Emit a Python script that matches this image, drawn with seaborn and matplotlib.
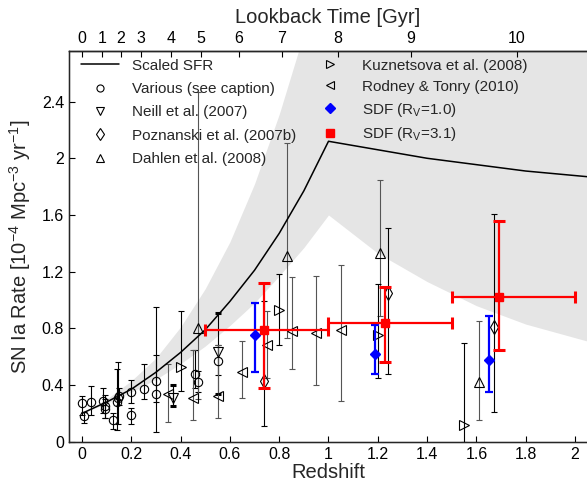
import numpy as np
import pandas as pd
import seaborn as sns
import matplotlib.pyplot as plt
from matplotlib.lines import Line2D

# scaled SFR curve and its grey uncertainty band
sfr_z = [0.0, 0.1, 0.2, 0.3, 0.4, 0.5, 0.6, 0.7, 0.8, 0.9, 1.0, 1.2, 1.4, 1.6, 1.8, 2.05]
sfr_rate = [0.20, 0.28, 0.37, 0.49, 0.63, 0.79, 0.99, 1.21, 1.47, 1.77, 2.12, 2.06, 2.00, 1.955, 1.91, 1.87]
band_lo = [0.20, 0.27, 0.35, 0.44, 0.55, 0.675, 0.82, 0.98, 1.17, 1.37, 1.60, 1.33, 1.13, 0.96, 0.83, 0.71]
band_hi = [0.20, 0.30, 0.43, 0.59, 0.81, 1.08, 1.41, 1.82, 2.31, 2.88, 3.58, 3.5, 3.45, 3.4, 3.35, 3.3]

# measurements: redshift, rate, lower end, upper end of error bar
various_z = [0.0, 0.01, 0.035, 0.085, 0.095, 0.095, 0.125, 0.14, 0.147, 0.152, 0.20, 0.20, 0.25, 0.30, 0.30, 0.46, 0.47, 0.55]
various_r = [0.27, 0.18, 0.28, 0.29, 0.25, 0.23, 0.15, 0.28, 0.31, 0.32, 0.35, 0.19, 0.37, 0.43, 0.34, 0.48, 0.42, 0.57]
various_lo = [0.19, 0.13, 0.19, 0.205, 0.17, 0.17, 0.09, 0.08, 0.125, 0.26, 0.27, 0.125, 0.30, 0.28, 0.07, 0.38, 0.35, 0.47]
various_hi = [0.32, 0.21, 0.39, 0.38, 0.33, 0.30, 0.20, 0.51, 0.56, 0.38, 0.435, 0.24, 0.55, 0.61, 0.95, 0.65, 0.50, 0.68]

neill_z = [0.37, 0.55]
neill_r = [0.31, 0.63]
neill_lo = [0.25, 0.34]
neill_hi = [0.40, 0.906]

pozn_z = [0.74, 1.24, 1.67]
pozn_r = [0.43, 1.05, 0.81]
pozn_lo = [0.11, 0.48, 0.21]
pozn_hi = [0.99, 1.51, 1.61]

dahlen_z = [0.47, 0.83, 1.21, 1.61]
dahlen_r = [0.80, 1.31, 1.33, 0.42]
dahlen_lo = [0.30, 0.73, 0.89, 0.15]
dahlen_hi = [2.47, 2.11, 1.85, 0.85]

kuz_z = [0.40, 0.80, 1.20, 1.55]
kuz_r = [0.53, 0.93, 0.75, 0.12]
kuz_lo = [0.36, 0.68, 0.45, 0.0]
kuz_hi = [0.92, 1.18, 1.11, 0.70]

rodney_z = [0.35, 0.45, 0.55, 0.65, 0.75, 0.85, 0.95, 1.05]
rodney_r = [0.34, 0.31, 0.32, 0.49, 0.68, 0.78, 0.77, 0.79]
rodney_lo = [0.14, 0.15, 0.165, 0.31, 0.45, 0.51, 0.40, 0.29]
rodney_hi = [0.55, 0.65, 0.68, 0.71, 0.92, 1.16, 1.17, 1.25]

sdf1_z = [0.70, 1.19, 1.65]
sdf1_r = [0.75, 0.62, 0.58]
sdf1_lo = [0.49, 0.48, 0.35]
sdf1_hi = [0.98, 0.82, 0.89]

sdf3_z = [0.74, 1.23, 1.69]
sdf3_r = [0.79, 0.84, 1.02]
sdf3_lo = [0.38, 0.56, 0.65]
sdf3_hi = [1.12, 1.09, 1.56]
sdf3_zlo = [0.5, 1.0, 1.5]
sdf3_zhi = [1.0, 1.5, 2.0]

# lookback time ticks on the top axis
lookback_z = [0.0, 0.083, 0.158, 0.239, 0.361, 0.481, 0.637, 0.810, 1.039, 1.333, 1.763]
lookback_labels = ["0", "1", "2", "3", "4", "5", "6", "7", "8", "9", "10"]

sns.set_style("ticks")
plt.rcParams['font.family'] = ['Liberation Sans', 'DejaVu Sans']
plt.rcParams['mathtext.fontset'] = 'custom'
plt.rcParams['mathtext.rm'] = 'Liberation Sans'
plt.rcParams['mathtext.it'] = 'Liberation Sans:italic'
plt.rcParams['mathtext.bf'] = 'Liberation Sans:bold'

fig = plt.figure(figsize=(5.87, 4.83), dpi=100)
ax = fig.add_axes([69 / 587, 41.3 / 483, 518 / 587, 390.7 / 483])

ax.fill_between(sfr_z, band_lo, band_hi, color='#e5e5e5', lw=0, zorder=0)
sns.lineplot(x=sfr_z, y=sfr_rate, ax=ax, color='k', linewidth=1.1, sort=False, legend=False, zorder=4)


def add_series(z, r, lo, hi, marker, ms, ecolor, capthick=0.8, mfc='none', mec='k'):
	z = np.array(z)
	r = np.array(r)
	yerr = [r - np.array(lo), np.array(hi) - r]
	ax.errorbar(z, r, yerr=yerr, fmt='none', ecolor=ecolor, elinewidth=0.8,
		capsize=2, capthick=capthick, zorder=2)
	h, = ax.plot(z, r, linestyle='none', marker=marker, ms=ms, mfc=mfc, mec=mec, mew=0.8, zorder=3)
	return h


h_var = add_series(various_z, various_r, various_lo, various_hi, 'o', 6, 'k')
h_neill = add_series(neill_z, neill_r, neill_lo, neill_hi, 'v', 7, 'k', capthick=2.2)
h_pozn = add_series(pozn_z, pozn_r, pozn_lo, pozn_hi, 'd', 7, 'k')
h_dahlen = add_series(dahlen_z, dahlen_r, dahlen_lo, dahlen_hi, '^', 7.5, '#555555')
h_kuz = add_series(kuz_z, kuz_r, kuz_lo, kuz_hi, '>', 7, 'k')
h_rod = add_series(rodney_z, rodney_r, rodney_lo, rodney_hi, '<', 7, '#555555')

# SDF rates
r1 = np.array(sdf1_r)
ax.errorbar(sdf1_z, r1, yerr=[r1 - np.array(sdf1_lo), np.array(sdf1_hi) - r1], fmt='none',
	ecolor='#0000ff', elinewidth=1.6, capsize=3, capthick=1.6, zorder=5)
h_sdf1, = ax.plot(sdf1_z, sdf1_r, linestyle='none', marker='D', ms=5.5, color='#0000ff', zorder=6)

r3 = np.array(sdf3_r)
z3 = np.array(sdf3_z)
ax.errorbar(z3, r3, yerr=[r3 - np.array(sdf3_lo), np.array(sdf3_hi) - r3],
	xerr=[z3 - np.array(sdf3_zlo), np.array(sdf3_zhi) - z3], fmt='none',
	ecolor='#ff0000', elinewidth=1.6, capsize=4, capthick=2.2, zorder=5)
h_sdf3, = ax.plot(sdf3_z, sdf3_r, linestyle='none', marker='s', ms=6, color='#ff0000', zorder=6)

h_sfr = Line2D([], [], color='k', linewidth=1.1)

# two legend columns, placed separately so the row spacing can differ
leg_kw = dict(loc='upper left', frameon=False, fontsize=11, borderaxespad=0, borderpad=0,
	handlelength=2.52, handletextpad=0.81, markerscale=0.85)
leg1 = ax.legend([h_sfr, h_var, h_neill, h_pozn, h_dahlen],
	["Scaled SFR", "Various (see caption)", "Neill et al. (2007)", "Poznanski et al. (2007b)",
	"Dahlen et al. (2008)"], bbox_to_anchor=(0.0226, 0.980), labelspacing=0.61, **leg_kw)
ax.add_artist(leg1)
ax.legend([h_kuz, h_rod, h_sdf1, h_sdf3],
	["Kuznetsova et al. (2008)", "Rodney & Tonry (2010)",
	r"SDF (R$_\mathrm{V}$=1.0)", r"SDF (R$_\mathrm{V}$=3.1)"],
	bbox_to_anchor=(0.467, 0.980), labelspacing=0.45, **leg_kw)

ax.set_xlim(-0.0527, 2.0487)
ax.set_ylim(0, 2.757)
ax.set_xticks([0, 0.2, 0.4, 0.6, 0.8, 1, 1.2, 1.4, 1.6, 1.8, 2])
ax.set_xticklabels(["0", "0.2", "0.4", "0.6", "0.8", "1", "1.2", "1.4", "1.6", "1.8", "2"])
ax.set_yticks([0, 0.4, 0.8, 1.2, 1.6, 2.0, 2.4])
ax.set_yticklabels(["0", "0.4", "0.8", "1.2", "1.6", "2", "2.4"])
ax.tick_params(direction='in', length=4, width=0.8, labelsize=11.5, colors='k')
ax.set_xlabel("Redshift", fontsize=14.5, labelpad=1)
ax.set_ylabel(r"SN Ia Rate [10$^{-4}$ Mpc$^{-3}$ yr$^{-1}$]", fontsize=14.5, labelpad=6)
ax.spines['right'].set_visible(False)
for s in ['left', 'bottom', 'top']:
	ax.spines[s].set_linewidth(1.0)
	ax.spines[s].set_color('k')

top = ax.twiny()
top.set_xlim(ax.get_xlim())
top.set_xticks(lookback_z)
top.set_xticklabels(lookback_labels)
top.tick_params(direction='in', length=4, width=0.8, labelsize=11.5, colors='k')
top.set_xlabel("Lookback Time [Gyr]", fontsize=14.5, labelpad=6)
top.spines['right'].set_visible(False)
top.spines['top'].set_linewidth(1.0)

plt.savefig("out.png", dpi=100)
